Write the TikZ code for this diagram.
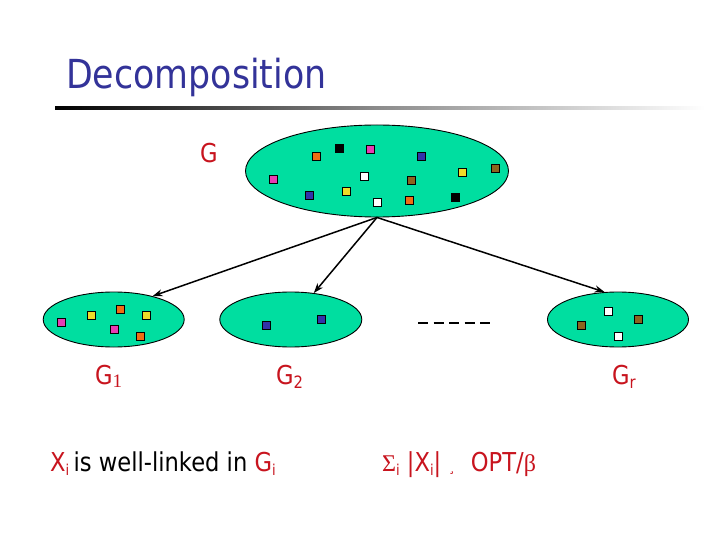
\documentclass[tikz,border=0pt]{standalone}
\usepackage{fontspec}
\setmainfont{DejaVu Sans}[FakeStretch=0.87]
\newfontfamily\serifo{Liberation Serif}
\usetikzlibrary{shapes.geometric,arrows.meta}
\definecolor{gfill}{RGB}{0,222,160}
\definecolor{titleblue}{RGB}{51,51,153}
\definecolor{lred}{RGB}{200,20,30}
\definecolor{sqorange}{RGB}{240,110,20}
\definecolor{sqpink}{RGB}{230,60,180}
\definecolor{sqblue}{RGB}{50,50,170}
\definecolor{sqyellow}{RGB}{240,220,40}
\definecolor{sqbrown}{RGB}{140,100,30}
\tikzset{
  ell/.style={ellipse, draw=black, line width=0.9, fill=gfill, inner sep=0},
  sq/.style={rectangle, draw=black, line width=0.7, minimum size=8, inner sep=0},
  arr/.style={line width=1.5, -{Stealth[length=10,width=7]}},
  lbl/.style={text=lred, inner sep=0, font=\fontsize{26}{30}\selectfont},
  dashline/.style={line width=2, dash pattern=on 10 off 5.5}
}
\begin{document}
\begin{tikzpicture}[x=1pt,y=-1pt]
\useasboundingbox[fill=white] (0,0) rectangle (720,540);
% title
\node[anchor=base west, inner sep=0, text=titleblue, font=\fontsize{40}{48}\selectfont] (title) at (66,89) {Decomposition};
\shade[left color=black, right color=white, middle color=black!45] (55,107) rectangle (705,110);
% ellipses
\node[ell, minimum width=263, minimum height=92] (G) at (377,171) {};
\node[ell, minimum width=141, minimum height=55] (G1) at (113.7,319.5) {};
\node[ell, minimum width=142, minimum height=55] (G2) at (290.8,319.5) {};
\node[ell, minimum width=141, minimum height=55] (Gr) at (618,319.5) {};
% squares in G
\foreach \n/\x/\y/\c in {a/316.7/156.7/sqorange, b/339.7/148/black, c/370.7/149.7/sqpink,
  d/421.7/156.7/sqblue, e/273.7/179.7/sqpink, f/364.7/176.7/white, g/411.7/180.7/sqbrown,
  h/462.7/172.7/sqyellow, i/495.7/168/sqbrown, j/309.7/195.7/sqblue, k/346.7/191.7/sqyellow,
  l/377.7/202.7/white, m/409.7/200.7/sqorange, n/455.7/197/black}
  \node[sq, fill=\c] (s\n) at (\x,\y) {};
% squares in G1
\foreach \n/\x/\y/\c in {a/61.7/322.7/sqpink, b/91/315.3/sqyellow, c/120.7/309/sqorange,
  d/146.7/315.3/sqyellow, e/114/329.7/sqpink, f/140/336.7/sqorange}
  \node[sq, fill=\c] (t\n) at (\x,\y) {};
% squares in G2
\node[sq, fill=sqblue] (ua) at (266.7,325.7) {};
\node[sq, fill=sqblue] (ub) at (321,319) {};
% squares in Gr
\foreach \n/\x/\y/\c in {a/608.7/311.7/white, b/638.7/319/sqbrown, c/581.7/325.7/sqbrown, d/618.7/336.7/white}
  \node[sq, fill=\c] (v\n) at (\x,\y) {};
% arrows
\draw[arr] (G.south) -- (G1.31);
\draw[arr] (G.south) -- (G2.49);
\draw[arr] (G.south) -- (Gr.116);
% dashes
\coordinate (d1) at (418,322.7);
\coordinate (d2) at (492,322.7);
\draw[dashline] (d1) -- (d2);
% labels
\node[lbl, anchor=base] (lG) at (209,163) {G};
\node[lbl, anchor=base west] (lG1) at (95,384) {G\raisebox{-3pt}{\serifo\fontsize{19}{22}\selectfont 1}};
\node[lbl, anchor=base west] (lG2) at (276,384) {G\raisebox{-4pt}{\fontsize{17}{20}\selectfont 2}};
\node[lbl, anchor=base west] (lGr) at (612,384) {G\raisebox{-4pt}{\fontsize{17}{20}\selectfont r}};
\node[lbl, anchor=base west] (cond1) at (50,471) {X\raisebox{-4pt}{\fontsize{15}{18}\selectfont i}\,\textcolor{black}{ is well-linked in }G\raisebox{-4pt}{\fontsize{15}{18}\selectfont i}};
\node[lbl, anchor=base west] (cond2) at (382,471) {{\serifo\fontsize{24}{28}\selectfont Σ}\raisebox{-4pt}{\fontsize{15}{18}\selectfont i} |X\raisebox{-4pt}{\fontsize{15}{18}\selectfont i}| {\fontsize{15}{18}\selectfont ¸}\,\, OPT/{\serifo\fontsize{24}{28}\selectfont β}};
\end{tikzpicture}
\end{document}
